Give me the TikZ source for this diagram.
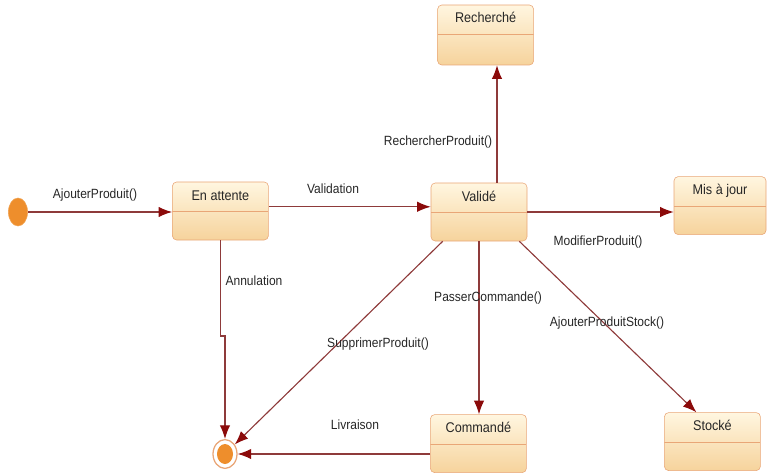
\documentclass[tikz,border=0pt]{standalone}
\usepackage{fontspec}
\setmainfont{Liberation Sans}[FakeStretch=0.9]
\usetikzlibrary{positioning,calc,arrows.meta,shapes.geometric}

\definecolor{boxtop}{HTML}{FFF6E0}
\definecolor{boxbot}{HTML}{F6D39C}
\definecolor{boxline}{HTML}{E9A677}
\definecolor{trline}{HTML}{8E3A3A}
\definecolor{trtip}{HTML}{8B0A0A}
\definecolor{dotfill}{HTML}{EE8E2C}
\definecolor{lbltext}{HTML}{262626}

\tikzset{
  state/.style={draw=boxline, rounded corners=3pt,
                top color=boxtop, bottom color=boxbot,
                minimum width=2.4cm, minimum height=1.45cm,
                text height=0.35cm, text depth=0.9cm,
                inner xsep=2pt, inner ysep=0.1cm,
                font=\fontsize{10}{12}\selectfont, text=lbltext,
                path picture={\draw[boxline]
                  ($(path picture bounding box.north west)+(0,-0.74cm)$) --
                  ($(path picture bounding box.north east)+(0,-0.74cm)$);}},
  initstate/.style={ellipse, fill=dotfill, draw=dotfill!80!white,
                    minimum width=0.48cm, minimum height=0.7cm, inner sep=0pt},
  finalstate/.style={ellipse, fill=white, draw=boxline, line width=0.9pt,
                     minimum width=0.6cm, minimum height=0.72cm, inner sep=0pt},
  trans/.style={draw=trline, line width=0.8pt,
                -{Latex[length=3.4mm,width=2.6mm,fill=trtip,color=trtip]}},
  lbl/.style={font=\fontsize{9.5}{11}\selectfont, text=lbltext, inner sep=1pt}
}

\begin{document}
\begin{tikzpicture}

\useasboundingbox (0,0) rectangle (19.2,11.8);

% States
\node[initstate] (init) at (0.45,6.5) {};
\node[state] (attente) at (5.51,6.525) {En attente};
\node[state] (valide) at (11.975,6.5) {Validé};
\node[state, minimum height=1.5cm, text depth=0.95cm] (rech) at (12.14,10.925) {Recherché};
\node[state, minimum width=2.3cm] (majour) at (18.0,6.66) {Mis à jour};
\node[state] (commande) at (11.96,0.71) {Commandé};
\node[state] (stocke) at (17.81,0.76) {Stocké};

\node[finalstate] (fin) at (5.625,0.45) {};
\fill[dotfill] (fin.center) ellipse (0.2cm and 0.25cm);

% Transitions
\draw[trans] (init) -- (init -| attente.west);
\draw[trans] ([yshift=3pt]attente.east) -- ([yshift=3pt]attente.east -| valide.west);
\draw[trans] ([xshift=0.45cm]valide.north) -- ([xshift=0.45cm]valide.north |- rech.south);
\draw[trans] (valide.east) -- (valide.east -| majour.west);
\draw[trans] (valide.south) -- (valide.south |- commande.north);
\draw[trans] ([xshift=-0.2cm]valide.south east) -- ([xshift=-0.4cm]stocke.north);
\draw[trans] ([xshift=0.3cm]valide.south west) -- (fin);
\draw[trans] (commande.west |- fin) -- (fin);

\coordinate (jog) at (5.6,3.4);
\draw[trans] (attente.south) -- (attente.south |- jog) -- (fin.north |- jog) -- (fin.north);

% Labels
\node[lbl] (l-ajout) at (2.375,6.925) {AjouterProduit()};
\node[lbl] (l-valid) at (8.325,7.075) {Validation};
\node[lbl] (l-rech) at (10.95,8.25) {RechercherProduit()};
\node[lbl] (l-modif) at (14.95,5.75) {ModifierProduit()};
\node[lbl] (l-passer) at (12.2,4.35) {PasserCommande()};
\node[lbl] (l-stock) at (15.175,3.725) {AjouterProduitStock()};
\node[lbl] (l-suppr) at (9.45,3.2) {SupprimerProduit()};
\node[lbl] (l-annul) at (6.35,4.775) {Annulation};
\node[lbl] (l-livr) at (8.875,1.175) {Livraison};

\end{tikzpicture}
\end{document}
